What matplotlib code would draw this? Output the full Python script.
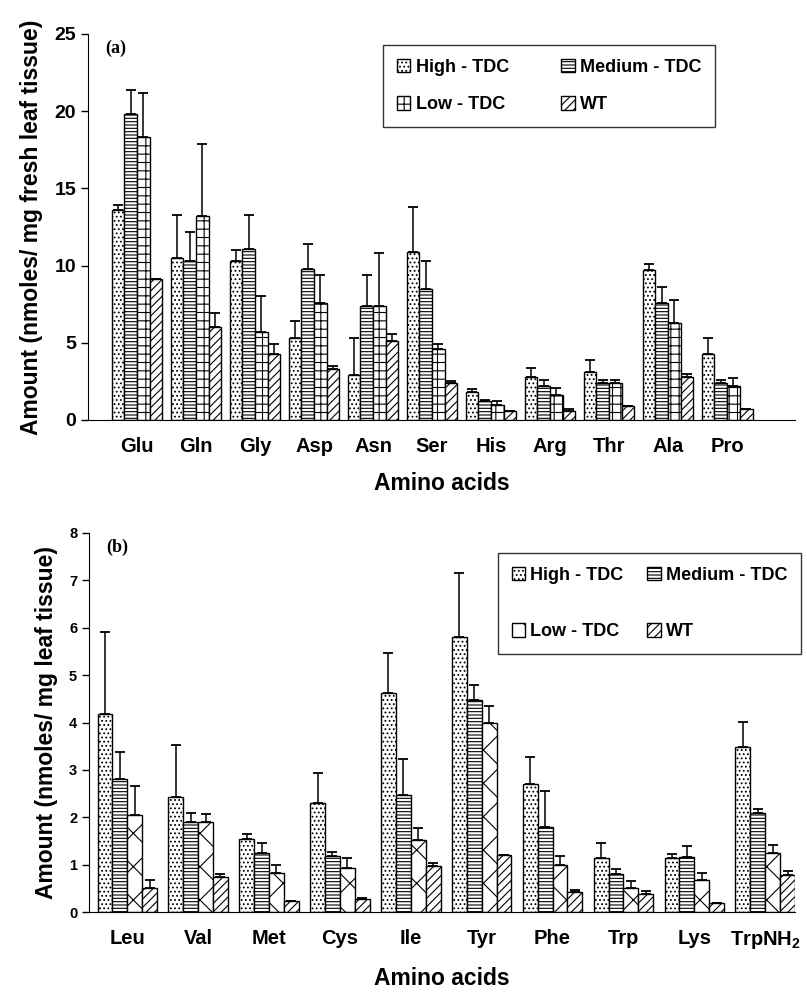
import matplotlib.pyplot as plt
import numpy as np

plt.rcParams['font.family'] = ['Liberation Sans', 'DejaVu Sans']
plt.rcParams['mathtext.fontset'] = 'custom'
plt.rcParams['mathtext.bf'] = 'Liberation Sans:bold'
plt.rcParams['hatch.linewidth'] = 0.8

groups = ['High - TDC', 'Medium - TDC', 'Low - TDC', 'WT']

# panel (a)
acids_a = ['Glu', 'Gln', 'Gly', 'Asp', 'Asn', 'Ser', 'His', 'Arg', 'Thr', 'Ala', 'Pro']
high_a = [13.6, 10.5, 10.3, 5.3, 2.9, 10.9, 1.8, 2.8, 3.1, 9.7, 4.3]
med_a = [19.8, 10.3, 11.1, 9.8, 7.4, 8.5, 1.2, 2.2, 2.4, 7.6, 2.4]
low_a = [18.3, 13.2, 5.7, 7.6, 7.4, 4.6, 1.0, 1.6, 2.4, 6.3, 2.2]
wt_a = [9.1, 6.0, 4.3, 3.3, 5.1, 2.4, 0.6, 0.6, 0.9, 2.8, 0.7]
high_a_top = [13.9, 13.3, 11.0, 6.4, 5.3, 13.8, 2.0, 3.4, 3.9, 10.1, 5.3]
med_a_top = [21.4, 12.2, 13.3, 11.4, 9.4, 10.3, 1.3, 2.6, 2.6, 8.6, 2.6]
low_a_top = [21.2, 17.9, 8.0, 9.4, 10.8, 4.9, 1.2, 2.1, 2.6, 7.8, 2.7]
wt_a_top = [9.1, 6.9, 4.9, 3.5, 5.6, 2.5, 0.6, 0.7, 0.9, 3.0, 0.7]

# panel (b)
acids_b = ['Leu', 'Val', 'Met', 'Cys', 'Ile', 'Tyr', 'Phe', 'Trp', 'Lys', r'$\mathbf{TrpNH_2}$']
high_b = [4.17, 2.43, 1.55, 2.30, 4.63, 5.80, 2.70, 1.13, 1.13, 3.48]
med_b = [2.80, 1.90, 1.24, 1.18, 2.48, 4.47, 1.80, 0.80, 1.17, 2.10]
low_b = [2.05, 1.90, 0.83, 0.93, 1.52, 3.98, 1.00, 0.50, 0.67, 1.25]
wt_b = [0.50, 0.73, 0.23, 0.27, 0.98, 1.20, 0.42, 0.38, 0.20, 0.78]
high_b_top = [5.90, 3.52, 1.65, 2.93, 5.47, 7.15, 3.27, 1.45, 1.22, 4.02]
med_b_top = [3.37, 2.10, 1.45, 1.27, 3.22, 4.80, 2.55, 0.90, 1.40, 2.17]
low_b_top = [2.65, 2.07, 1.00, 1.15, 1.77, 4.35, 1.18, 0.65, 0.83, 1.42]
wt_b_top = [0.67, 0.80, 0.23, 0.30, 1.03, 1.20, 0.47, 0.45, 0.20, 0.87]


def draw(ax, acids, vals, tops, hatches, w, ylim, yticks, ytick_size, ylabel, tag,
         legend_anchor, colsp, labsp):
    x = np.arange(len(acids))
    bars = []
    for i, (v, t, h, lab) in enumerate(zip(vals, tops, hatches, groups)):
        v = np.array(v)
        err = np.clip(np.array(t) - v, 0, None)
        b = ax.bar(x + (i - 1.5) * w, v, w, color='white', edgecolor='black',
                   linewidth=1.0, hatch=h, label=lab,
                   yerr=[np.zeros_like(v), err], capsize=3.5,
                   error_kw=dict(elinewidth=1.1, capthick=1.3, ecolor='black'))
        bars.append(b)
    ax.set_ylim(*ylim)
    ax.set_yticks(yticks)
    ax.set_xticks(x)
    ax.set_xticklabels(acids, fontsize=14.5, fontweight='bold')
    ax.tick_params(axis='x', length=0, pad=12)
    ax.tick_params(axis='y', labelsize=ytick_size, direction='out', length=5, width=1)
    for lbl in ax.get_yticklabels():
        lbl.set_fontweight('bold')
    ax.spines['top'].set_visible(False)
    ax.spines['right'].set_visible(False)
    ax.set_xlabel('Amino acids', fontsize=16.5, fontweight='bold', labelpad=12)
    ax.set_ylabel(ylabel, fontsize=16.5, fontweight='bold', labelpad=8)
    ax.text(0.025, 0.985, tag, transform=ax.transAxes, fontsize=13,
            fontweight='bold', family='Liberation Serif', va='top')
    # row-wise order: High, Medium / Low, WT
    order = [0, 2, 1, 3]
    leg = ax.legend([bars[k] for k in order], [groups[k] for k in order],
                    loc='upper left', bbox_to_anchor=legend_anchor,
                    bbox_transform=fig.transFigure, borderaxespad=0,
                    ncol=2, fancybox=False,
                    edgecolor='black', handlelength=0.75, handleheight=0.75,
                    handletextpad=0.3, columnspacing=colsp, labelspacing=labsp,
                    borderpad=0.75, prop=dict(weight='bold', size=13))
    leg.get_frame().set_linewidth(1.0)


fig = plt.figure(figsize=(8.07, 10), dpi=100)
ax1 = fig.add_axes([88 / 807, 0.58, 707 / 807, 0.386])
ax2 = fig.add_axes([89 / 807, 0.088, 706 / 807, 0.379])

draw(ax1, acids_a, [high_a, med_a, low_a, wt_a],
     [high_a_top, med_a_top, low_a_top, wt_a_top],
     ['....', '-----', '++', '////'], 0.215, (0, 25), np.arange(0, 26, 5), 14,
     'Amount (nmoles/ mg fresh leaf tissue)', '(a)', (383 / 807, 1 - 45 / 1000),
     2.9, 1.15)
ax1.set_xlim(-0.83, 11.15)

draw(ax2, acids_b, [high_b, med_b, low_b, wt_b],
     [high_b_top, med_b_top, low_b_top, wt_b_top],
     ['....', '-----', 'x', '////'], 0.21, (0, 8), np.arange(0, 9, 1), 10.5,
     'Amount (nmoles/ mg leaf tissue)', '(b)', (498 / 807, 1 - 553 / 1000),
     1.3, 2.2)
ax2.set_xlim(-0.54, 9.42)

fig.savefig('out.png', dpi=100)
